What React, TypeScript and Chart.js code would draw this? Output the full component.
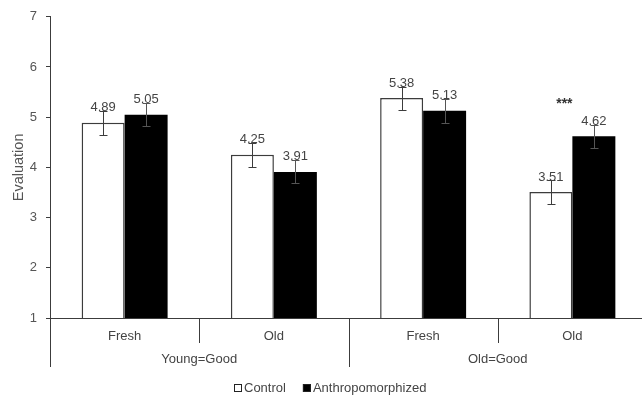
import { useEffect, useRef } from "react";
import { Chart, registerables } from "chart.js";

Chart.register(...registerables);

const subLabels = ["Fresh", "Old", "Fresh", "Old"];
const groupLabels = ["Young=Good", "Old=Good"];
const seriesNames = ["Control", "Anthropomorphized"];
const controlValues = [4.89, 4.25, 5.38, 3.51];
const anthroValues = [5.05, 3.91, 5.13, 4.62];
const controlErrors = [0.24, 0.24, 0.23, 0.23];
const anthroErrors = [0.23, 0.23, 0.24, 0.23];
const significance = ["", "", "", "***"];
const significanceLevel = 5.3;
const yMin = 1;
const yMax = 7;

const FONT = "'Liberation Sans', Arial, sans-serif";
const TEXT = "#444";
const LINE = "#3c3c3c";

const overlay = {
  id: "overlay",
  afterDatasetsDraw(chart: any) {
    const ctx = chart.ctx;
    const y = chart.scales.y;
    const errs = [controlErrors, anthroErrors];
    ctx.save();
    chart.data.datasets.forEach((ds: any, di: number) => {
      const meta = chart.getDatasetMeta(di);
      meta.data.forEach((bar: any, i: number) => {
        const v = ds.data[i] as number;
        const e = errs[di][i];
        const top = Math.round(y.getPixelForValue(v + e)) + 0.5;
        const bot = Math.round(y.getPixelForValue(v - e)) + 0.5;
        const bx = Math.round(bar.x) + 0.5;
        ctx.strokeStyle = di === 1 ? "#555" : LINE;
        ctx.lineWidth = 1;
        ctx.beginPath();
        ctx.moveTo(bx, top);
        ctx.lineTo(bx, bot);
        ctx.moveTo(bx - 4, top);
        ctx.lineTo(bx + 4, top);
        ctx.moveTo(bx - 4, bot);
        ctx.lineTo(bx + 4, bot);
        ctx.stroke();
        ctx.fillStyle = TEXT;
        ctx.font = `13px ${FONT}`;
        ctx.textAlign = "center";
        ctx.textBaseline = "middle";
        ctx.fillText(v.toFixed(2), bar.x, y.getPixelForValue(v) - 15);
      });
    });
    ctx.restore();
  },
  afterDraw(chart: any) {
    const ctx = chart.ctx;
    const x = chart.scales.x;
    const y = chart.scales.y;
    const area = chart.chartArea;
    const n = subLabels.length;
    const step = (area.right - area.left) / n;
    ctx.save();
    ctx.strokeStyle = LINE;
    ctx.lineWidth = 1;
    ctx.beginPath();
    for (let i = 0; i <= n; i++) {
      const px = Math.round(area.left + i * step) + 0.5;
      const long = i % 2 === 0;
      ctx.moveTo(px, area.bottom);
      ctx.lineTo(px, area.bottom + (long ? 49 : 25));
    }
    ctx.stroke();

    ctx.fillStyle = TEXT;
    ctx.font = `13px ${FONT}`;
    ctx.textAlign = "center";
    ctx.textBaseline = "middle";
    groupLabels.forEach((g, gi) => {
      const cx = area.left + (gi * 2 + 1) * step;
      ctx.fillText(g, cx, area.bottom + 41);
    });

    significance.forEach((s, i) => {
      if (!s) return;
      ctx.font = `bold 14px ${FONT}`;
      ctx.fillStyle = "#333";
      ctx.fillText(s, x.getPixelForValue(i) - 8, y.getPixelForValue(significanceLevel) + 2);
    });

    // legend
    ctx.font = `13px ${FONT}`;
    ctx.textAlign = "left";
    const ly = 388;
    const fills = ["#ffffff", "#000000"];
    let lx = 234;
    seriesNames.forEach((name, i) => {
      ctx.fillStyle = fills[i];
      ctx.fillRect(lx, ly - 4, 8, 8);
      ctx.strokeStyle = "#222";
      ctx.lineWidth = 1;
      ctx.strokeRect(lx + 0.5, ly - 3.5, 7, 7);
      ctx.fillStyle = TEXT;
      ctx.fillText(name, lx + 10, ly);
      lx += 10 + ctx.measureText(name).width + 17;
    });
    ctx.restore();
  },
};

export default function App() {
  const ref = useRef<HTMLCanvasElement>(null);
  useEffect(() => {
    if (!ref.current) return;
    const chart = new Chart(ref.current, {
      type: "bar",
      data: {
        labels: subLabels,
        datasets: [
          {
            label: seriesNames[0],
            data: controlValues,
            backgroundColor: "#ffffff",
            borderColor: LINE,
            borderWidth: 1.5,
          },
          {
            label: seriesNames[1],
            data: anthroValues,
            backgroundColor: "#000000",
            borderColor: "#000000",
            borderWidth: 0,
          },
        ],
      },
      options: {
        responsive: false,
        animation: false,
        layout: { padding: { top: 15, right: 13, bottom: 0, left: 0 } },
        datasets: { bar: { categoryPercentage: 0.576, barPercentage: 1 } },
        plugins: { legend: { display: false }, tooltip: { enabled: false } },
        scales: {
          x: {
            grid: { display: false },
            border: { display: true, color: LINE, width: 1 },
            ticks: { color: TEXT, font: { family: FONT, size: 13 }, padding: 3 },
            afterFit: (s: any) => {
              s.height = 81;
            },
          },
          y: {
            min: yMin,
            max: yMax,
            grid: { display: true, drawOnChartArea: false, drawTicks: true, tickLength: 4, color: LINE },
            border: { display: true, color: LINE, width: 1 },
            ticks: { stepSize: 1, color: "#555", font: { family: FONT, size: 13 }, padding: 9 },
            title: {
              display: true,
              text: "Evaluation",
              color: "#555",
              font: { family: FONT, size: 14.5 },
              padding: { top: 10, bottom: 0 },
            },
            afterFit: (s: any) => {
              s.width = 50;
            },
          },
        },
      },
      plugins: [overlay],
    });
    return () => chart.destroy();
  }, []);
  return (
    <div style={{ position: "absolute", left: 0, top: 0, width: 642, height: 399, overflow: "hidden", background: "#fff" }}>
      <canvas ref={ref} width={660} height={399} />
    </div>
  );
}
